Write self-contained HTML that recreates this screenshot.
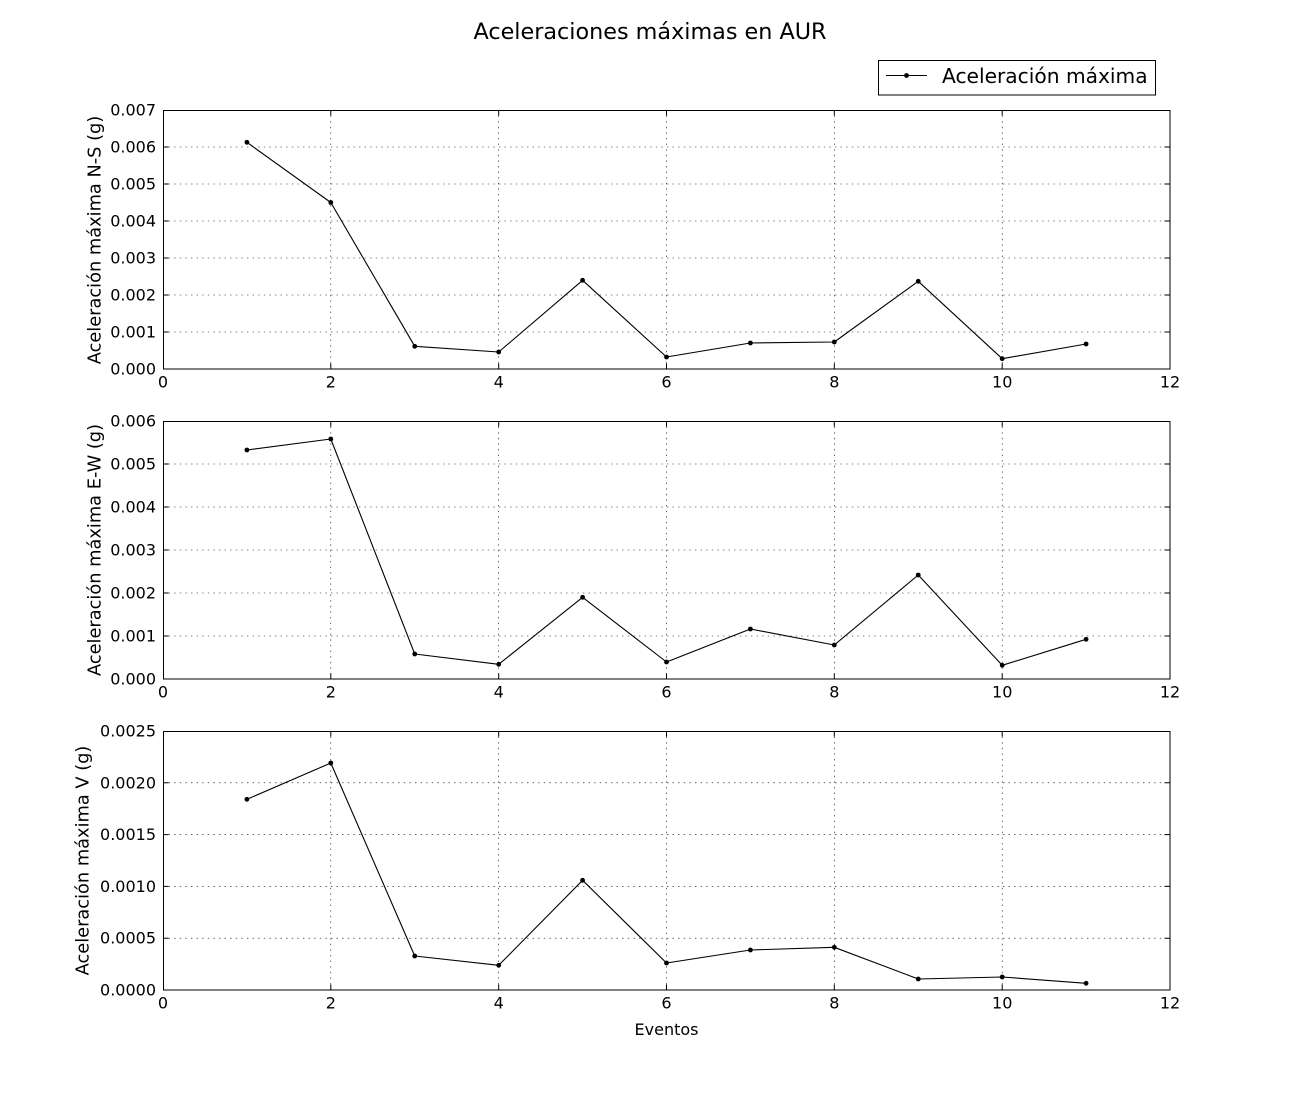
<!DOCTYPE html>
<html>
<head>
<meta charset="utf-8">
<style>
  html, body { margin: 0; padding: 0; background: #fff; }
  svg { display: block; }
  text { font-family: "DejaVu Sans", "Liberation Sans", sans-serif; fill: #000; }
  .tk { font-size: 16px; }
  .yl { font-size: 17.8px; }
</style>
</head>
<body>
<svg width="1300" height="1100" viewBox="0 0 1300 1100" xmlns="http://www.w3.org/2000/svg">
  <rect x="0" y="0" width="1300" height="1100" fill="#fff"/>

  <!-- Title -->
  <text x="650" y="39" text-anchor="middle" style="font-size:22.3px">Aceleraciones máximas en AUR</text>

  <!-- Legend -->
  <rect x="878.5" y="60.5" width="277" height="34.5" fill="#fff" stroke="#000" stroke-width="1"/>
  <line x1="886" y1="75.5" x2="927" y2="75.5" stroke="#000" stroke-width="1"/>
  <circle cx="906.5" cy="75.5" r="2.4" fill="#000"/>
  <text x="942" y="83" style="font-size:20.2px">Aceleración máxima</text>

  <!-- ================= PLOT 1 ================= -->
  <g>
    <path d="M330.8 110V369M498.7 110V369M666.5 110V369M834.3 110V369M1002.2 110V369
             M163 332H1170M163 295H1170M163 258H1170M163 221H1170M163 184H1170M163 147H1170"
          stroke="#000" stroke-width="0.6" stroke-dasharray="1.4,4.2" fill="none"/>
    <path d="M330.8 369v-5.5M498.7 369v-5.5M666.5 369v-5.5M834.3 369v-5.5M1002.2 369v-5.5
             M330.8 110v5.5M498.7 110v5.5M666.5 110v5.5M834.3 110v5.5M1002.2 110v5.5
             M163 332h5.5M163 295h5.5M163 258h5.5M163 221h5.5M163 184h5.5M163 147h5.5
             M1170 332h-5.5M1170 295h-5.5M1170 258h-5.5M1170 221h-5.5M1170 184h-5.5M1170 147h-5.5"
          stroke="#000" stroke-width="1" fill="none"/>
    <rect x="163.5" y="110.5" width="1006.5" height="258.5" fill="none" stroke="#000" stroke-width="1"/>
    <polyline points="246.9,142.3 330.8,202.5 414.75,346.3 498.7,352 582.6,280.3 666.5,357 750.4,343 834.3,342 918.25,281.3 1002.2,358.7 1086.1,344"
              fill="none" stroke="#000" stroke-width="1.1" stroke-linejoin="round"/>
    <g fill="#000">
      <circle cx="246.9" cy="142.3" r="2.4"/><circle cx="330.8" cy="202.5" r="2.4"/>
      <circle cx="414.75" cy="346.3" r="2.4"/><circle cx="498.7" cy="352" r="2.4"/>
      <circle cx="582.6" cy="280.3" r="2.4"/><circle cx="666.5" cy="357" r="2.4"/>
      <circle cx="750.4" cy="343" r="2.4"/><circle cx="834.3" cy="342" r="2.4"/>
      <circle cx="918.25" cy="281.3" r="2.4"/><circle cx="1002.2" cy="358.7" r="2.4"/>
      <circle cx="1086.1" cy="344" r="2.4"/>
    </g>
    <g class="tk" text-anchor="end">
      <text x="156" y="374.5">0.000</text>
      <text x="156" y="337.5">0.001</text>
      <text x="156" y="300.5">0.002</text>
      <text x="156" y="263.5">0.003</text>
      <text x="156" y="226.5">0.004</text>
      <text x="156" y="189.5">0.005</text>
      <text x="156" y="152.5">0.006</text>
      <text x="156" y="115.5">0.007</text>
    </g>
    <g class="tk" text-anchor="middle">
      <text x="163" y="387.5">0</text>
      <text x="330.8" y="387.5">2</text>
      <text x="498.7" y="387.5">4</text>
      <text x="666.5" y="387.5">6</text>
      <text x="834.3" y="387.5">8</text>
      <text x="1002.2" y="387.5">10</text>
      <text x="1170" y="387.5">12</text>
    </g>
    <text class="yl" transform="translate(100.5,240) rotate(-90)" text-anchor="middle">Aceleración máxima N-S (g)</text>
  </g>

  <!-- ================= PLOT 2 ================= -->
  <g>
    <path d="M330.8 421V679M498.7 421V679M666.5 421V679M834.3 421V679M1002.2 421V679
             M163 636H1170M163 593H1170M163 550H1170M163 507H1170M163 464H1170"
          stroke="#000" stroke-width="0.6" stroke-dasharray="1.4,4.2" fill="none"/>
    <path d="M330.8 679v-5.5M498.7 679v-5.5M666.5 679v-5.5M834.3 679v-5.5M1002.2 679v-5.5
             M330.8 421v5.5M498.7 421v5.5M666.5 421v5.5M834.3 421v5.5M1002.2 421v5.5
             M163 636h5.5M163 593h5.5M163 550h5.5M163 507h5.5M163 464h5.5
             M1170 636h-5.5M1170 593h-5.5M1170 550h-5.5M1170 507h-5.5M1170 464h-5.5"
          stroke="#000" stroke-width="1" fill="none"/>
    <rect x="163.5" y="421.5" width="1006.5" height="257.5" fill="none" stroke="#000" stroke-width="1"/>
    <polyline points="246.9,450 330.8,439 414.75,654 498.7,664.3 582.6,597.3 666.5,662 750.4,629 834.3,645 918.25,575 1002.2,665.3 1086.1,639.3"
              fill="none" stroke="#000" stroke-width="1.1" stroke-linejoin="round"/>
    <g fill="#000">
      <circle cx="246.9" cy="450" r="2.4"/><circle cx="330.8" cy="439" r="2.4"/>
      <circle cx="414.75" cy="654" r="2.4"/><circle cx="498.7" cy="664.3" r="2.4"/>
      <circle cx="582.6" cy="597.3" r="2.4"/><circle cx="666.5" cy="662" r="2.4"/>
      <circle cx="750.4" cy="629" r="2.4"/><circle cx="834.3" cy="645" r="2.4"/>
      <circle cx="918.25" cy="575" r="2.4"/><circle cx="1002.2" cy="665.3" r="2.4"/>
      <circle cx="1086.1" cy="639.3" r="2.4"/>
    </g>
    <g class="tk" text-anchor="end">
      <text x="156" y="684.5">0.000</text>
      <text x="156" y="641.5">0.001</text>
      <text x="156" y="598.5">0.002</text>
      <text x="156" y="555.5">0.003</text>
      <text x="156" y="512.5">0.004</text>
      <text x="156" y="469.5">0.005</text>
      <text x="156" y="426.5">0.006</text>
    </g>
    <g class="tk" text-anchor="middle">
      <text x="163" y="697.5">0</text>
      <text x="330.8" y="697.5">2</text>
      <text x="498.7" y="697.5">4</text>
      <text x="666.5" y="697.5">6</text>
      <text x="834.3" y="697.5">8</text>
      <text x="1002.2" y="697.5">10</text>
      <text x="1170" y="697.5">12</text>
    </g>
    <text class="yl" transform="translate(100.5,550) rotate(-90)" text-anchor="middle">Aceleración máxima E-W (g)</text>
  </g>

  <!-- ================= PLOT 3 ================= -->
  <g>
    <path d="M330.8 731V990M498.7 731V990M666.5 731V990M834.3 731V990M1002.2 731V990
             M163 938.2H1170M163 886.4H1170M163 834.6H1170M163 782.8H1170"
          stroke="#000" stroke-width="0.6" stroke-dasharray="1.4,4.2" fill="none"/>
    <path d="M330.8 990v-5.5M498.7 990v-5.5M666.5 990v-5.5M834.3 990v-5.5M1002.2 990v-5.5
             M330.8 731v5.5M498.7 731v5.5M666.5 731v5.5M834.3 731v5.5M1002.2 731v5.5
             M163 938.2h5.5M163 886.4h5.5M163 834.6h5.5M163 782.8h5.5
             M1170 938.2h-5.5M1170 886.4h-5.5M1170 834.6h-5.5M1170 782.8h-5.5"
          stroke="#000" stroke-width="1" fill="none"/>
    <rect x="163.5" y="731.5" width="1006.5" height="258.5" fill="none" stroke="#000" stroke-width="1"/>
    <polyline points="246.9,799.3 330.8,763 414.75,956 498.7,965.3 582.6,880.3 666.5,963 750.4,950 834.3,947.3 918.25,979 1002.2,977 1086.1,983.3"
              fill="none" stroke="#000" stroke-width="1.1" stroke-linejoin="round"/>
    <g fill="#000">
      <circle cx="246.9" cy="799.3" r="2.4"/><circle cx="330.8" cy="763" r="2.4"/>
      <circle cx="414.75" cy="956" r="2.4"/><circle cx="498.7" cy="965.3" r="2.4"/>
      <circle cx="582.6" cy="880.3" r="2.4"/><circle cx="666.5" cy="963" r="2.4"/>
      <circle cx="750.4" cy="950" r="2.4"/><circle cx="834.3" cy="947.3" r="2.4"/>
      <circle cx="918.25" cy="979" r="2.4"/><circle cx="1002.2" cy="977" r="2.4"/>
      <circle cx="1086.1" cy="983.3" r="2.4"/>
    </g>
    <g class="tk" text-anchor="end">
      <text x="156" y="995.5">0.0000</text>
      <text x="156" y="943.7">0.0005</text>
      <text x="156" y="891.9">0.0010</text>
      <text x="156" y="840.1">0.0015</text>
      <text x="156" y="788.3">0.0020</text>
      <text x="156" y="736.5">0.0025</text>
    </g>
    <g class="tk" text-anchor="middle">
      <text x="163" y="1008.5">0</text>
      <text x="330.8" y="1008.5">2</text>
      <text x="498.7" y="1008.5">4</text>
      <text x="666.5" y="1008.5">6</text>
      <text x="834.3" y="1008.5">8</text>
      <text x="1002.2" y="1008.5">10</text>
      <text x="1170" y="1008.5">12</text>
    </g>
    <text class="yl" transform="translate(88.5,860.5) rotate(-90)" text-anchor="middle">Aceleración máxima V (g)</text>
    <text x="666.5" y="1035" text-anchor="middle" style="font-size:16px">Eventos</text>
  </g>
</svg>
</body>
</html>
